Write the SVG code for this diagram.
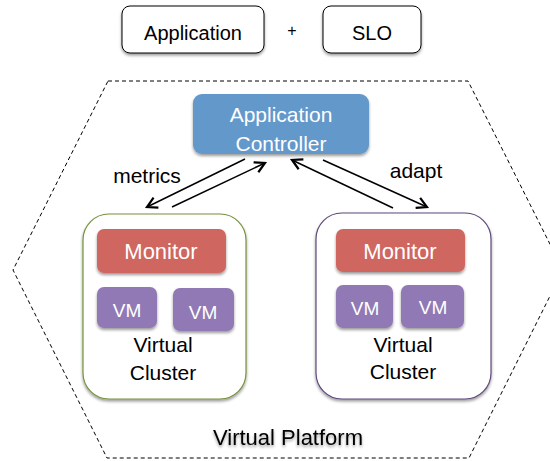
<svg xmlns="http://www.w3.org/2000/svg" width="550" height="461" viewBox="0 0 550 461">
<defs>
<filter id="sh" x="-20%" y="-20%" width="140%" height="150%">
<feGaussianBlur in="SourceAlpha" stdDeviation="1.5"/>
<feOffset dx="0" dy="2" result="b"/>
<feComponentTransfer><feFuncA type="linear" slope="0.4"/></feComponentTransfer>
<feMerge><feMergeNode/><feMergeNode in="SourceGraphic"/></feMerge>
</filter>
<marker id="ah" markerWidth="14" markerHeight="14" refX="12" refY="7" orient="auto" markerUnits="userSpaceOnUse">
<path d="M2,1.5 L12,7 L2,12.5" fill="none" stroke="#000" stroke-width="2.2" stroke-linejoin="miter"/>
</marker>
</defs>
<style>
text{font-family:"Liberation Sans",Arial,sans-serif;text-anchor:middle}
.w{fill:#fff}
.k{fill:#000}
.plain{fill:#fff;stroke:#000;stroke-width:1}
.ctl{fill:#6398cb}
.mon{fill:#cf6661}
.vm{fill:#9079b5}
.conn{stroke:#000;stroke-width:1.5;fill:none}
</style>
<g id="platform">
<polygon points="108,81 468,81 563,270 469,458 107,458 13,270" fill="none" stroke="#000" stroke-width="1" stroke-dasharray="4,3"/>
<text x="288" y="445" font-size="22" class="k" filter="url(#sh)">Virtual Platform</text>
</g>
<g id="application">
<rect x="122" y="6" width="142" height="47" rx="8" class="plain" filter="url(#sh)"/>
<text x="193" y="40" font-size="20" class="k">Application</text>
</g>
<text x="292" y="36" font-size="16" class="k">+</text>
<g id="slo">
<rect x="323" y="6" width="98" height="47" rx="8" class="plain" filter="url(#sh)"/>
<text x="372" y="40" font-size="20" class="k">SLO</text>
</g>
<g id="controller">
<rect x="193" y="94" width="176" height="60" rx="9" class="ctl" filter="url(#sh)"/>
<text x="281" y="122" font-size="21" class="w">Application</text>
<text x="281" y="151" font-size="21" class="w">Controller</text>
</g>
<g id="cluster-left">
<rect x="83" y="214" width="163" height="185" rx="26" fill="#fff" stroke="#76923c" stroke-width="1.2" filter="url(#sh)"/>
<rect x="97" y="229" width="129" height="44" rx="7" class="mon" filter="url(#sh)"/>
<text x="161" y="259" font-size="22" class="w">Monitor</text>
<rect x="97" y="287" width="60" height="41" rx="7" class="vm" filter="url(#sh)"/>
<text x="127" y="317" font-size="19" class="w">VM</text>
<rect x="173" y="288" width="61" height="43" rx="7" class="vm" filter="url(#sh)"/>
<text x="203" y="319" font-size="19" class="w">VM</text>
<text x="163" y="352" font-size="21" class="k">Virtual</text>
<text x="163" y="380" font-size="21" class="k">Cluster</text>
</g>
<g id="cluster-right">
<rect x="316" y="213" width="175" height="186" rx="26" fill="#fff" stroke="#5f497a" stroke-width="1.2" filter="url(#sh)"/>
<rect x="336" y="229" width="129" height="43" rx="7" class="mon" filter="url(#sh)"/>
<text x="400" y="259" font-size="22" class="w">Monitor</text>
<rect x="336" y="285" width="57" height="43" rx="7" class="vm" filter="url(#sh)"/>
<text x="365" y="315" font-size="19" class="w">VM</text>
<rect x="401" y="285" width="63" height="43" rx="7" class="vm" filter="url(#sh)"/>
<text x="433" y="314" font-size="19" class="w">VM</text>
<text x="403" y="352" font-size="21" class="k">Virtual</text>
<text x="403" y="379" font-size="21" class="k">Cluster</text>
</g>
<g id="connectors">
<line x1="245" y1="159" x2="147" y2="207" class="conn" marker-end="url(#ah)"/>
<line x1="172" y1="207" x2="265" y2="163" class="conn" marker-end="url(#ah)"/>
<line x1="393" y1="208" x2="292" y2="160" class="conn" marker-end="url(#ah)"/>
<line x1="323" y1="160" x2="427" y2="207" class="conn" marker-end="url(#ah)"/>
<text x="147" y="183" font-size="21" class="k">metrics</text>
<text x="416" y="178" font-size="21" class="k">adapt</text>
</g>
</svg>
